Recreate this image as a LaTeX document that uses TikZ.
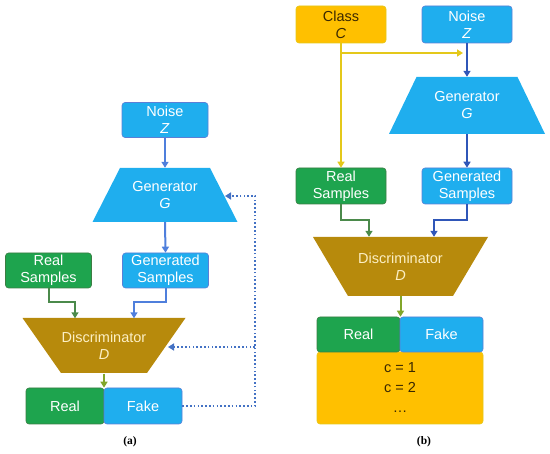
\documentclass[tikz,border=0pt]{standalone}
\usepackage{fontspec}
\setmainfont{Liberation Sans}
\newfontfamily\legende{Liberation Serif}
\usetikzlibrary{arrows.meta, positioning, calc}

\definecolor{bleu}{HTML}{1FAEEE}
\definecolor{bordbleu}{HTML}{5B7FD6}
\definecolor{vert}{HTML}{1EA44E}
\definecolor{bordvert}{HTML}{3C7D43}
\definecolor{ocre}{HTML}{B78A0C}
\definecolor{clair}{HTML}{FCEFC4}
\definecolor{jaune}{HTML}{FFC000}
\definecolor{bordjaune}{HTML}{E4C81A}
\definecolor{brun}{HTML}{3A2800}
\definecolor{flbleu}{HTML}{4F7FDC}
\definecolor{flbleufonce}{HTML}{2F56B8}
\definecolor{flvert}{HTML}{4B8A4B}
\definecolor{flolive}{HTML}{82A62A}
\definecolor{pointille}{HTML}{4472C4}

\begin{document}
\begin{tikzpicture}[x=1pt,y=-1pt,
  boite/.style={rounded corners=3pt, minimum width=86pt, minimum height=35pt, inner sep=0pt,
    align=center, font=\fontsize{14.5}{17}\selectfont, line width=0.6pt},
  bleue/.style={boite, fill=bleu, draw=bordbleu, text=white},
  verte/.style={boite, fill=vert, draw=bordvert, text=white},
  jaunie/.style={boite, fill=jaune, draw=bordjaune, text=brun},
  titre/.style={align=center, inner sep=0pt, font=\fontsize{14.5}{17}\selectfont},
  fleche/.style={line width=2pt, -{Triangle[length=6pt, width=7pt]}},
  retour/.style={line width=2.2pt, dash pattern=on 1.6pt off 2.2pt, draw=pointille,
    -{Triangle[length=6pt, width=7pt]}},
  etiquette/.style={font=\legende\bfseries\fontsize{11.5}{13}\selectfont}]

\useasboundingbox (0,0) rectangle (550,454);

%% trapeze : \trapeze{(x,y) du centre}{demi-haut}{demi-bas}{demi-hauteur}{couleur}
\newcommand\trapeze[5]{\begin{scope}[shift={#1}]
  \fill[#5] (-#2,-#4) -- (#2,-#4) -- (#3,#4) -- (-#3,#4) -- cycle; \end{scope}}

%% ================= (a) GAN simple =========================================
\node[bleue] (noiseA) at (165,120) {Noise\\\textit{Z}};
\trapeze{(165,195)}{45}{72.5}{27}{bleu}
\node[titre, text=white, minimum height=54pt] (genA) at (165,195) {Generator\\\textit{G}};
\node[verte] (realsA) at (48.5,270.5) {Real\\Samples};
\node[bleue] (gensA) at (165.5,270.5) {Generated\\Samples};
\trapeze{(104,345.5)}{81.5}{43}{27.5}{ocre}
\node[titre, text=clair, minimum height=55pt] (discA) at (104,346) {Discriminator\\\textit{D}};
\node[verte, minimum width=78pt, minimum height=36pt] (realA) at (65,406) {Real};
\node[bleue, minimum width=78pt, minimum height=36pt] (fakeA) at (143,406) {Fake};

\draw[fleche, flbleu] (noiseA) -- (genA.north);
\draw[fleche, flbleu] (genA.south) -- (gensA.north);
\draw[fleche, flvert] (realsA.south) -- ++(0,14) -| ([xshift=-29pt]discA.north);
\draw[fleche, flbleu] (gensA.south) -- ++(0,14) -| ([xshift=30pt]discA.north);
\draw[fleche, flolive] (discA.south) -- (discA.south |- realA.north);

%% boucle de retour en pointilles
\coordinate (coinA) at (255,196);
\coordinate (genAd) at (225,196);
\coordinate (discAd) at (168,347);
\draw[retour] (fakeA.east) -| (coinA) -- (genAd);
\draw[retour] (coinA |- discAd) -- (discAd);

\node[etiquette] (legA) at (130,442) {(a)};

%% ================= (b) GAN conditionnel ===================================
\node[jaunie, minimum width=90pt, minimum height=37pt] (classB) at (341,24.5) {Class\\\textit{C}};
\node[bleue, minimum width=90pt, minimum height=37pt] (noiseB) at (467,24.5) {Noise\\\textit{Z}};
\trapeze{(467,105.5)}{50.5}{78}{28.5}{bleu}
\node[titre, text=white, minimum height=57pt] (genB) at (467,105.5) {Generator\\\textit{G}};
\node[verte, minimum width=90pt, minimum height=36pt] (realsB) at (341,186) {Real\\Samples};
\node[bleue, minimum width=90pt, minimum height=36pt] (gensB) at (467,186) {Generated\\Samples};
\trapeze{(400.5,266.5)}{87.5}{52.5}{29.5}{ocre}
\node[titre, text=clair, minimum height=59pt] (discB) at (400.5,266.5) {Discriminator\\\textit{D}};
\node[jaunie, minimum width=166pt, minimum height=72pt, font=\fontsize{14.5}{20}\selectfont]
  (classesB) at (400,388) {c = 1\\c = 2\\\dots};
\node[verte, minimum width=83pt, minimum height=35pt] (realB) at (358.5,334.5) {Real};
\node[bleue, minimum width=83pt, minimum height=35pt] (fakeB) at (441.5,334.5) {Fake};

\coordinate (coinB) at (463,53);
\draw[fleche, bordjaune] (classB.south) -- (realsB.north);
\draw[fleche, bordjaune] (classB.south |- coinB) -- (coinB);
\draw[fleche, flbleufonce] (noiseB) -- (genB.north);
\draw[fleche, flbleufonce] (genB.south) -- (gensB.north);
\draw[fleche, flvert] (realsB.south) -- ++(0,16) -| ([xshift=-31.5pt]discB.north);
\draw[fleche, flbleufonce] (gensB.south) -- ++(0,16) -| ([xshift=33.5pt]discB.north);
\draw[fleche, flolive] (discB.south) -- (discB.south |- realB.north);

\node[etiquette] (legB) at (424,442) {(b)};
\end{tikzpicture}
\end{document}
